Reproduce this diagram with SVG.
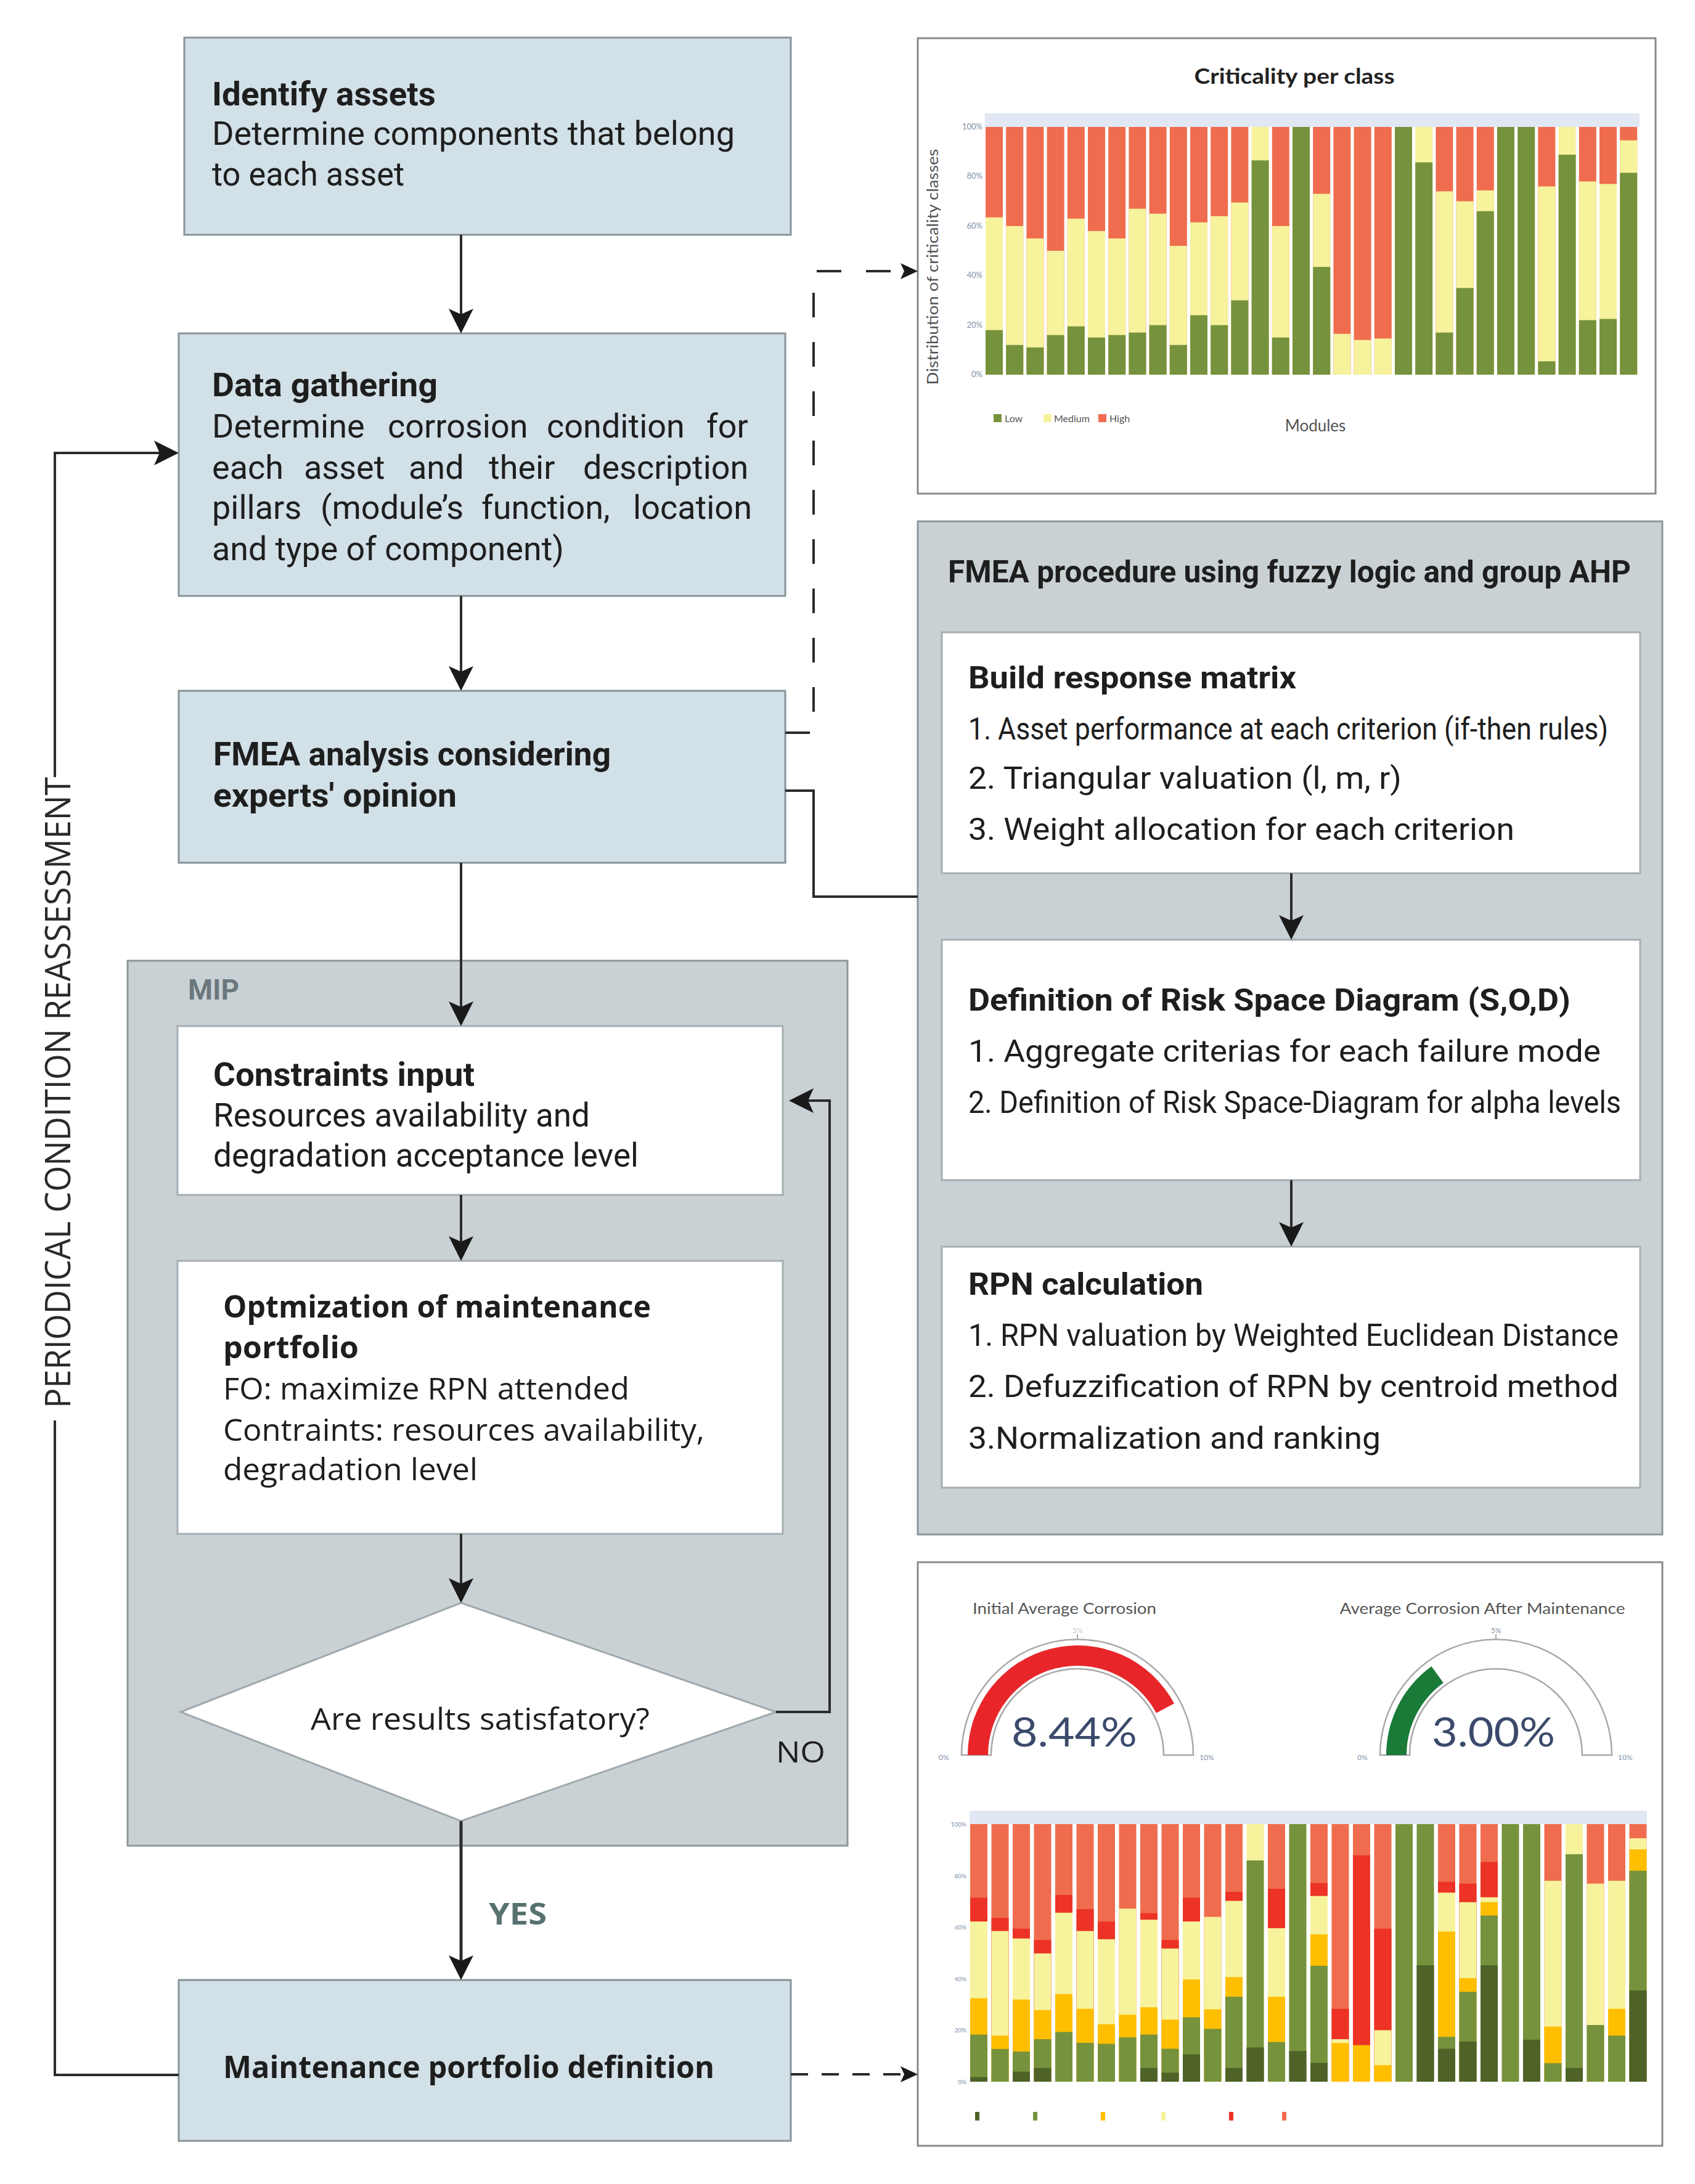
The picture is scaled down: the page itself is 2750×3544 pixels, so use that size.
<svg xmlns="http://www.w3.org/2000/svg" width="2750" height="3544" viewBox="0 0 2750 3544">
<defs>
<style>
.box{fill:#d2e0e7;stroke:#87949a;stroke-width:3}
.panel{fill:#c9d1d4;stroke:#8c979b;stroke-width:3}
.wbox{fill:#ffffff;stroke:#a5aeb2;stroke-width:3}
.chart{fill:#ffffff;stroke:#8a8a8a;stroke-width:3}
.c{font-family:Roboto,"Noto Sans",sans-serif;font-size:54px;fill:#1e1e1e}
.p{font-family:Roboto,"Noto Sans",sans-serif;font-size:50px;fill:#1e1e1e}
.o{font-family:"Open Sans","Noto Sans",sans-serif;font-size:50px;fill:#1e1e1e}
.b{font-weight:bold}
.ln{stroke:#2b2b2b;stroke-width:4;fill:none}
.dl{stroke:#2b2b2b;stroke-width:4;fill:none;stroke-dasharray:40 40}
.ch{font-family:Lato,"Open Sans",sans-serif;fill:#555555}
.tk{font-family:Lato,"Open Sans",sans-serif;fill:#8090a8;font-size:13px}
.gs{fill:#ffffff;stroke:#a8a8a8;stroke-width:2.5}
</style>
<marker id="ah" markerUnits="userSpaceOnUse" markerWidth="60" markerHeight="60" refX="0" refY="0" orient="auto" overflow="visible">
<path d="M6,0 L-34,-20 L-25,0 L-34,20 Z" fill="#1a1a1a"/>
</marker>
<marker id="ahs" markerUnits="userSpaceOnUse" markerWidth="40" markerHeight="40" refX="0" refY="0" orient="auto" overflow="visible">
<path d="M6,0 L-22,-13 L-16,0 L-22,13 Z" fill="#1a1a1a"/>
</marker>
</defs>
<rect width="2750" height="3544" fill="#ffffff"/>

<!-- nodes -->
<g id="identify-assets">
<rect class="box" x="299" y="61" width="984" height="320"/>
<text class="c b" x="344" y="171" textLength="363" lengthAdjust="spacingAndGlyphs">Identify assets</text>
<text class="c" x="344" y="235" textLength="848" lengthAdjust="spacingAndGlyphs">Determine components that belong</text>
<text class="c" x="344" y="301" textLength="312" lengthAdjust="spacingAndGlyphs">to each asset</text>
</g>

<g id="data-gathering">
<rect class="box" x="290" y="541" width="984" height="426"/>
<text class="c b" x="344" y="643" textLength="366" lengthAdjust="spacingAndGlyphs">Data gathering</text>
<text class="c" y="710"><tspan x="344">Determine</tspan><tspan x="629">corrosion</tspan><tspan x="887">condition</tspan><tspan x="1146">for</tspan></text>
<text class="c" y="777"><tspan x="344">each</tspan><tspan x="493">asset</tspan><tspan x="663">and</tspan><tspan x="793">their</tspan><tspan x="946">description</tspan></text>
<text class="c" y="842"><tspan x="344">pillars</tspan><tspan x="520">(module’s</tspan><tspan x="781">function,</tspan><tspan x="1027">location</tspan></text>
<text class="c" x="344" y="909" textLength="571" lengthAdjust="spacingAndGlyphs">and type of component)</text>
</g>

<g id="fmea-analysis">
<rect class="box" x="290" y="1121" width="984" height="279"/>
<text class="c b" x="346" y="1242" textLength="645" lengthAdjust="spacingAndGlyphs">FMEA analysis considering</text>
<text class="c b" x="346" y="1309" textLength="395" lengthAdjust="spacingAndGlyphs">experts' opinion</text>
</g>

<g id="mip">
<rect class="panel" x="207" y="1559" width="1168" height="1436"/>
<text class="c b" x="305" y="1622" style="font-size:46px;fill:#6b787d" textLength="83" lengthAdjust="spacingAndGlyphs">MIP</text>
</g>

<g id="constraints-input">
<rect class="wbox" x="288" y="1665" width="982" height="274"/>
<text class="c b" x="346" y="1762" textLength="424" lengthAdjust="spacingAndGlyphs">Constraints input</text>
<text class="c" x="346" y="1828" textLength="611" lengthAdjust="spacingAndGlyphs">Resources availability and</text>
<text class="c" x="346" y="1893" textLength="690" lengthAdjust="spacingAndGlyphs">degradation acceptance level</text>
</g>

<g id="optimization">
<rect class="wbox" x="288" y="2046" width="982" height="443"/>
<text class="o b" x="362" y="2138" textLength="694" lengthAdjust="spacingAndGlyphs">Optmization of maintenance</text>
<text class="o b" x="362" y="2204" textLength="220" lengthAdjust="spacingAndGlyphs">portfolio</text>
<text class="o" x="362" y="2271" textLength="659" lengthAdjust="spacingAndGlyphs">FO: maximize RPN attended</text>
<text class="o" x="362" y="2338" textLength="781" lengthAdjust="spacingAndGlyphs">Contraints: resources availability,</text>
<text class="o" x="362" y="2402" textLength="413" lengthAdjust="spacingAndGlyphs">degradation level</text>
</g>

<g id="decision">
<polygon points="748,2601 1259,2778 748,2955 293,2778" fill="#ffffff" stroke="#a0a8ac" stroke-width="3"/>
<text class="o" x="504" y="2807" textLength="550" lengthAdjust="spacingAndGlyphs">Are results satisfatory?</text>
</g>

<g id="maintenance-portfolio">
<rect class="box" x="290" y="3213" width="993" height="261"/>
<text class="o b" x="362" y="3372" textLength="797" lengthAdjust="spacingAndGlyphs">Maintenance portfolio definition</text>
</g>

<g id="fmea-procedure">
<rect class="panel" x="1489" y="846" width="1208" height="1644"/>
<text class="p b" x="1538" y="945" textLength="1108" lengthAdjust="spacingAndGlyphs">FMEA procedure using fuzzy logic and group AHP</text>
</g>

<g id="build-response-matrix">
<rect class="wbox" x="1528" y="1026" width="1133" height="391"/>
<text class="p b" x="1571" y="1117" textLength="532" lengthAdjust="spacingAndGlyphs">Build response matrix</text>
<text class="p" x="1571" y="1200" textLength="1038" lengthAdjust="spacingAndGlyphs">1. Asset performance at each criterion (if-then rules)</text>
<text class="p" x="1571" y="1280" textLength="703" lengthAdjust="spacingAndGlyphs">2. Triangular valuation (l, m, r)</text>
<text class="p" x="1571" y="1363" textLength="886" lengthAdjust="spacingAndGlyphs">3. Weight allocation for each criterion</text>
</g>

<g id="risk-space-diagram">
<rect class="wbox" x="1528" y="1525" width="1133" height="390"/>
<text class="p b" x="1571" y="1640" textLength="977" lengthAdjust="spacingAndGlyphs">Definition of Risk Space Diagram (S,O,D)</text>
<text class="p" x="1571" y="1723" textLength="1026" lengthAdjust="spacingAndGlyphs">1. Aggregate criterias for each failure mode</text>
<text class="p" x="1571" y="1806" textLength="1059" lengthAdjust="spacingAndGlyphs">2. Definition of Risk Space-Diagram for alpha levels</text>
</g>

<g id="rpn-calculation">
<rect class="wbox" x="1528" y="2023" width="1133" height="391"/>
<text class="p b" x="1571" y="2101" textLength="381" lengthAdjust="spacingAndGlyphs">RPN calculation</text>
<text class="p" x="1571" y="2184" textLength="1055" lengthAdjust="spacingAndGlyphs">1. RPN valuation by Weighted Euclidean Distance</text>
<text class="p" x="1571" y="2267" textLength="1055" lengthAdjust="spacingAndGlyphs">2. Defuzzification of RPN by centroid method</text>
<text class="p" x="1571" y="2351" textLength="669" lengthAdjust="spacingAndGlyphs">3.Normalization and ranking</text>
</g>

<!-- top chart -->
<g id="criticality-chart">
<rect class="chart" x="1489" y="62" width="1197" height="739"/>
<text class="ch" x="2100" y="136" text-anchor="middle" style="font-size:34px;font-weight:bold;fill:#222" textLength="325" lengthAdjust="spacingAndGlyphs">Criticality per class</text>
<rect x="1598" y="184" width="1062" height="22" fill="#e1e8f3"/>
<text class="ch" transform="translate(1522,433) rotate(-90)" text-anchor="middle" style="font-size:25px" textLength="383" lengthAdjust="spacingAndGlyphs">Distribution of criticality classes</text>
<g class="tk" text-anchor="end">
<text x="1594" y="210">100%</text><text x="1594" y="290">80%</text><text x="1594" y="371">60%</text><text x="1594" y="451">40%</text><text x="1594" y="532">20%</text><text x="1594" y="612">0%</text>
</g>
<g transform="translate(1599,608) scale(1,-4.02)">
<g fill="#f06c4f">
<rect x="0" width="28" height="100"/><rect x="33.2" width="28" height="100"/><rect x="66.4" width="28" height="100"/><rect x="99.6" width="28" height="100"/><rect x="132.8" width="28" height="100"/><rect x="166" width="28" height="100"/><rect x="199.2" width="28" height="100"/><rect x="232.4" width="28" height="100"/><rect x="265.6" width="28" height="100"/><rect x="298.8" width="28" height="100"/><rect x="332" width="28" height="100"/><rect x="365.2" width="28" height="100"/><rect x="398.4" width="28" height="100"/><rect x="464.8" width="28" height="100"/><rect x="531.2" width="28" height="100"/><rect x="564.4" width="28" height="100"/><rect x="597.6" width="28" height="100"/><rect x="630.8" width="28" height="100"/><rect x="730.4" width="28" height="100"/><rect x="763.6" width="28" height="100"/><rect x="796.8" width="28" height="100"/><rect x="896.4" width="28" height="100"/><rect x="962.8" width="28" height="100"/><rect x="996" width="28" height="100"/><rect x="1029.2" width="28" height="100"/>
</g>
<g fill="#f7f29c">
<rect x="0" width="28" height="63.5"/><rect x="33.2" width="28" height="60"/><rect x="66.4" width="28" height="55"/><rect x="99.6" width="28" height="50"/><rect x="132.8" width="28" height="63"/><rect x="166" width="28" height="58"/><rect x="199.2" width="28" height="55"/><rect x="232.4" width="28" height="67"/><rect x="265.6" width="28" height="65"/><rect x="298.8" width="28" height="52"/><rect x="332" width="28" height="61.5"/><rect x="365.2" width="28" height="64"/><rect x="398.4" width="28" height="69.5"/><rect x="431.6" width="28" height="100"/><rect x="464.8" width="28" height="60"/><rect x="531.2" width="28" height="73"/><rect x="564.4" width="28" height="16.5"/><rect x="597.6" width="28" height="14"/><rect x="630.8" width="28" height="14.6"/><rect x="697.2" width="28" height="100"/><rect x="730.4" width="28" height="74"/><rect x="763.6" width="28" height="70"/><rect x="796.8" width="28" height="74.4"/><rect x="896.4" width="28" height="76"/><rect x="929.6" width="28" height="100"/><rect x="962.8" width="28" height="78"/><rect x="996" width="28" height="77"/><rect x="1029.2" width="28" height="94.6"/>
</g>
<g fill="#76923c">
<rect x="0" width="28" height="18"/><rect x="33.2" width="28" height="12"/><rect x="66.4" width="28" height="11"/><rect x="99.6" width="28" height="16"/><rect x="132.8" width="28" height="19.5"/><rect x="166" width="28" height="15"/><rect x="199.2" width="28" height="16"/><rect x="232.4" width="28" height="17"/><rect x="265.6" width="28" height="20"/><rect x="298.8" width="28" height="12"/><rect x="332" width="28" height="24"/><rect x="365.2" width="28" height="20"/><rect x="398.4" width="28" height="30"/><rect x="431.6" width="28" height="86.5"/><rect x="464.8" width="28" height="15"/><rect x="498" width="28" height="100"/><rect x="531.2" width="28" height="43.5"/><rect x="664" width="28" height="100"/><rect x="697.2" width="28" height="85.7"/><rect x="730.4" width="28" height="17"/><rect x="763.6" width="28" height="35"/><rect x="796.8" width="28" height="66"/><rect x="830" width="28" height="100"/><rect x="863.2" width="28" height="100"/><rect x="896.4" width="28" height="5.4"/><rect x="929.6" width="28" height="88.8"/><rect x="962.8" width="28" height="22"/><rect x="996" width="28" height="22.5"/><rect x="1029.2" width="28" height="81.5"/>
</g>
</g>
<rect x="1612" y="672" width="13" height="13" fill="#76923c"/>
<text class="ch" x="1630" y="685" style="font-size:16px">Low</text>
<rect x="1693" y="672" width="13" height="13" fill="#f7f29c"/>
<text class="ch" x="1710" y="685" style="font-size:16px">Medium</text>
<rect x="1782" y="672" width="13" height="13" fill="#f06c4f"/>
<text class="ch" x="1800" y="685" style="font-size:16px">High</text>
<text class="ch" x="2134" y="700" text-anchor="middle" style="font-size:26px">Modules</text>
</g>

<!-- bottom chart -->
<g id="corrosion-chart">
<rect class="chart" x="1489" y="2535" width="1208" height="947"/>
<text class="ch" x="1727" y="2619" text-anchor="middle" style="font-size:25px" textLength="298" lengthAdjust="spacingAndGlyphs">Initial Average Corrosion</text>
<text class="ch" x="2405" y="2619" text-anchor="middle" style="font-size:25px" textLength="463" lengthAdjust="spacingAndGlyphs">Average Corrosion After Maintenance</text>
<path class="gs" d="M1560,2848 A188,188 0 0 1 1936,2848 L1888,2848 A140,140 0 0 0 1608,2848 Z"/>
<path d="M1570,2848 A178,178 0 0 1 1905,2764.2 L1875.9,2779.7 A145,145 0 0 0 1603,2848 Z" fill="#e8262a"/>
<line x1="1748" y1="2660" x2="1748" y2="2652" stroke="#a8a8a8" stroke-width="2"/>
<path class="gs" d="M2239,2848 A188,188 0 0 1 2615,2848 L2567,2848 A140,140 0 0 0 2287,2848 Z"/>
<path d="M2249,2848 A178,178 0 0 1 2322.4,2704 L2341.8,2730.7 A145,145 0 0 0 2282,2848 Z" fill="#1a7a38"/>
<line x1="2427" y1="2660" x2="2427" y2="2652" stroke="#a8a8a8" stroke-width="2"/>
<g class="tk" style="font-size:12px">
<text x="1523" y="2856">0%</text><text x="1946" y="2856">10%</text><text x="1740" y="2650" fill="#c0c8d4">5%</text>
<text x="2202" y="2856">0%</text><text x="2625" y="2856">10%</text><text x="2419" y="2650">5%</text>
</g>
<text class="ch" x="1743" y="2834" text-anchor="middle" style="font-size:66px;fill:#3b4a6b" textLength="204" lengthAdjust="spacingAndGlyphs">8.44%</text>
<text class="ch" x="2423" y="2834" text-anchor="middle" style="font-size:66px;fill:#3b4a6b" textLength="200" lengthAdjust="spacingAndGlyphs">3.00%</text>
<rect x="1573" y="2938" width="1099" height="22" fill="#e1e8f3"/>
<g class="tk" text-anchor="end" style="font-size:10px">
<text x="1568" y="2964">100%</text><text x="1568" y="3048">80%</text><text x="1568" y="3131">60%</text><text x="1568" y="3215">40%</text><text x="1568" y="3298">20%</text><text x="1568" y="3382">0%</text>
</g>
<g transform="translate(1574,3378) scale(1,-4.18)">
<g fill="#f06c4f">
<rect x="0" width="28" height="100"/><rect x="34.5" width="28" height="100"/><rect x="69" width="28" height="100"/><rect x="103.5" width="28" height="100"/><rect x="138" width="28" height="100"/><rect x="172.5" width="28" height="100"/><rect x="207" width="28" height="100"/><rect x="241.5" width="28" height="100"/><rect x="276" width="28" height="100"/><rect x="310.5" width="28" height="100"/><rect x="345" width="28" height="100"/><rect x="379.5" width="28" height="100"/><rect x="414" width="28" height="100"/><rect x="483" width="28" height="100"/><rect x="552" width="28" height="100"/><rect x="586.5" width="28" height="100"/><rect x="621" width="28" height="100"/><rect x="655.5" width="28" height="100"/><rect x="759" width="28" height="100"/><rect x="793.5" width="28" height="100"/><rect x="828" width="28" height="100"/><rect x="931.5" width="28" height="100"/><rect x="1000.5" width="28" height="100"/><rect x="1035" width="28" height="100"/><rect x="1069.5" width="28" height="100"/>
</g>
<g fill="#ec3326">
<rect x="0" width="28" height="71.4"/><rect x="34.5" width="28" height="63.6"/><rect x="69" width="28" height="59.4"/><rect x="103.5" width="28" height="55"/><rect x="138" width="28" height="72.5"/><rect x="172.5" width="28" height="67"/><rect x="207" width="28" height="62.2"/><rect x="276" width="28" height="65.4"/><rect x="310.5" width="28" height="55"/><rect x="345" width="28" height="71.4"/><rect x="414" width="28" height="73.7"/><rect x="483" width="28" height="74.9"/><rect x="552" width="28" height="77.1"/><rect x="586.5" width="28" height="28.3"/><rect x="621" width="28" height="87.9"/><rect x="655.5" width="28" height="59.4"/><rect x="759" width="28" height="77.6"/><rect x="793.5" width="28" height="76.9"/><rect x="828" width="28" height="85.3"/>
</g>
<g fill="#f7f29c">
<rect x="0" width="28" height="62.2"/><rect x="34.5" width="28" height="58.5"/><rect x="69" width="28" height="55.6"/><rect x="103.5" width="28" height="49.8"/><rect x="138" width="28" height="65.6"/><rect x="172.5" width="28" height="58.5"/><rect x="207" width="28" height="55.3"/><rect x="241.5" width="28" height="67.2"/><rect x="276" width="28" height="62.9"/><rect x="310.5" width="28" height="51.7"/><rect x="345" width="28" height="62.2"/><rect x="379.5" width="28" height="64"/><rect x="414" width="28" height="70.2"/><rect x="448.5" width="28" height="100"/><rect x="483" width="28" height="59.6"/><rect x="552" width="28" height="72.1"/><rect x="586.5" width="28" height="16.5"/><rect x="655.5" width="28" height="20"/><rect x="759" width="28" height="73.4"/><rect x="793.5" width="28" height="69.7"/><rect x="828" width="28" height="71.6"/><rect x="931.5" width="28" height="78"/><rect x="966" width="28" height="100"/><rect x="1000.5" width="28" height="76.9"/><rect x="1035" width="28" height="78"/><rect x="1069.5" width="28" height="94.5"/>
</g>
<g fill="#ffbf00">
<rect x="0" width="28" height="32.4"/><rect x="34.5" width="28" height="17.9"/><rect x="69" width="28" height="31.9"/><rect x="103.5" width="28" height="27.8"/><rect x="138" width="28" height="34"/><rect x="172.5" width="28" height="28.3"/><rect x="207" width="28" height="22.3"/><rect x="241.5" width="28" height="26"/><rect x="276" width="28" height="28.9"/><rect x="310.5" width="28" height="24.1"/><rect x="345" width="28" height="39.7"/><rect x="379.5" width="28" height="28.1"/><rect x="414" width="28" height="40.6"/><rect x="483" width="28" height="33"/><rect x="552" width="28" height="57.2"/><rect x="586.5" width="28" height="15"/><rect x="621" width="28" height="14.2"/><rect x="655.5" width="28" height="6.4"/><rect x="759" width="28" height="58.3"/><rect x="793.5" width="28" height="40.2"/><rect x="828" width="28" height="69.7"/><rect x="931.5" width="28" height="21.4"/><rect x="1035" width="28" height="28.3"/><rect x="1069.5" width="28" height="90.2"/>
</g>
<g fill="#76923c">
<rect x="0" width="28" height="18.3"/><rect x="34.5" width="28" height="12.7"/><rect x="69" width="28" height="11.7"/><rect x="103.5" width="28" height="16.5"/><rect x="138" width="28" height="19.3"/><rect x="172.5" width="28" height="15.1"/><rect x="207" width="28" height="14.7"/><rect x="241.5" width="28" height="17.2"/><rect x="276" width="28" height="18.3"/><rect x="310.5" width="28" height="12.8"/><rect x="345" width="28" height="25"/><rect x="379.5" width="28" height="20.5"/><rect x="414" width="28" height="33"/><rect x="448.5" width="28" height="85.9"/><rect x="483" width="28" height="15.4"/><rect x="517.5" width="28" height="100"/><rect x="552" width="28" height="45"/><rect x="690" width="28" height="100"/><rect x="724.5" width="28" height="100"/><rect x="759" width="28" height="17.4"/><rect x="793.5" width="28" height="34.9"/><rect x="828" width="28" height="64.5"/><rect x="862.5" width="28" height="100"/><rect x="897" width="28" height="100"/><rect x="931.5" width="28" height="7.2"/><rect x="966" width="28" height="88.3"/><rect x="1000.5" width="28" height="22"/><rect x="1035" width="28" height="17.9"/><rect x="1069.5" width="28" height="81.9"/>
</g>
<g fill="#4f6228">
<rect x="0" width="28" height="1.8"/><rect x="69" width="28" height="3.9"/><rect x="103.5" width="28" height="5.3"/><rect x="276" width="28" height="5.3"/><rect x="310.5" width="28" height="3.5"/><rect x="345" width="28" height="10.6"/><rect x="414" width="28" height="5.3"/><rect x="448.5" width="28" height="13.3"/><rect x="517.5" width="28" height="11.9"/><rect x="552" width="28" height="7.3"/><rect x="724.5" width="28" height="45.2"/><rect x="759" width="28" height="12.8"/><rect x="793.5" width="28" height="15.6"/><rect x="828" width="28" height="45.2"/><rect x="897" width="28" height="16.3"/><rect x="966" width="28" height="5.3"/><rect x="1069.5" width="28" height="35.4"/>
</g>
</g>
<rect x="1582" y="3427" width="7" height="14" fill="#4f6228"/>
<rect x="1676" y="3427" width="7" height="14" fill="#76923c"/>
<rect x="1786" y="3427" width="7" height="14" fill="#ffbf00"/>
<rect x="1884" y="3427" width="7" height="14" fill="#f7f29c"/>
<rect x="1994" y="3427" width="7" height="14" fill="#ec3326"/>
<rect x="2080" y="3427" width="7" height="14" fill="#f06c4f"/>
</g>

<!-- connectors -->
<g id="connectors">
<path class="ln" d="M748,381 V535" marker-end="url(#ah)"/>
<path class="ln" d="M748,967 V1115" marker-end="url(#ah)"/>
<path class="ln" d="M748,1400 V1659" marker-end="url(#ah)"/>
<path class="ln" d="M748,1939 V2040" marker-end="url(#ah)"/>
<path class="ln" d="M748,2489 V2595" marker-end="url(#ah)"/>
<path class="ln" d="M748,2955 V3207" marker-end="url(#ah)" style="stroke-width:5"/>
<path class="ln" d="M1259,2778 H1346 V1786 H1286" marker-end="url(#ah)"/>
<path class="ln" d="M2095,1417 V1519" marker-end="url(#ah)"/>
<path class="ln" d="M2095,1915 V2017" marker-end="url(#ah)"/>
<path class="ln" d="M1274,1283 H1320 V1455 H1489"/>
<path class="dl" d="M1274,1189 H1320 V440 H1483" marker-end="url(#ahs)"/>
<path class="dl" d="M1283,3366 H1483" style="stroke-dasharray:28 22" marker-end="url(#ahs)"/>
<path class="ln" d="M290,3367 H89 V2305"/>
<path class="ln" d="M89,1261 V735 H284" marker-end="url(#ah)"/>
<text class="o" transform="translate(114,1773) rotate(-90)" text-anchor="middle" style="font-size:56px;fill:#2a2a2a" textLength="1024" lengthAdjust="spacingAndGlyphs">PERIODICAL CONDITION REASSESSMENT</text>
<text class="o" x="1259" y="2860" style="font-size:48px" textLength="80" lengthAdjust="spacingAndGlyphs">NO</text>
<text class="o b" x="793" y="3123" style="font-size:48px;fill:#587270" textLength="94" lengthAdjust="spacingAndGlyphs">YES</text>
</g>
</svg>
